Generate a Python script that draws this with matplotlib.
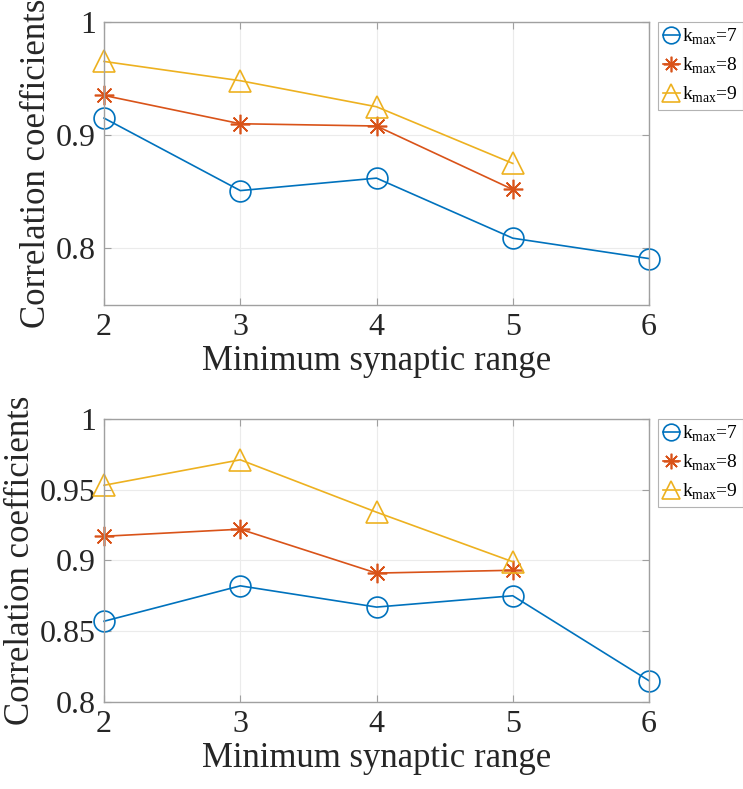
import matplotlib.pyplot as plt
import numpy as np

plt.rcParams['font.family'] = ['Liberation Serif', 'DejaVu Serif']
plt.rcParams['mathtext.fontset'] = 'custom'
plt.rcParams['mathtext.rm'] = 'Liberation Serif'

# data
x_vals = [2, 3, 4, 5, 6]
labels = ['k$_{\\mathrm{max}}$=7', 'k$_{\\mathrm{max}}$=8', 'k$_{\\mathrm{max}}$=9']

top_k7 = [0.915, 0.851, 0.862, 0.809, 0.791]
top_k8 = [0.935, 0.910, 0.908, 0.852]
top_k9 = [0.965, 0.948, 0.925, 0.875]

bot_k7 = [0.857, 0.882, 0.867, 0.875, 0.815]
bot_k8 = [0.917, 0.922, 0.891, 0.893]
bot_k9 = [0.953, 0.971, 0.934, 0.899]

colors = ['#0072BD', '#D95319', '#EDB120']
markers = ['o', (8, 2, 0), '^']
msizes = [15, 14, 16]

fig = plt.figure(figsize=(7.43, 7.89), dpi=100)
ax1 = fig.add_axes([0.140, 0.6134, 0.7335, 0.359])
ax2 = fig.add_axes([0.140, 0.1103, 0.7335, 0.359])

def draw(ax, series, ylim, yticks, yticklabels, leg_y):
    for i, s in enumerate(series):
        ax.plot(x_vals[:len(s)], s, color=colors[i], marker=markers[i],
                markersize=msizes[i], markerfacecolor='none',
                markeredgecolor=colors[i], markeredgewidth=1.2,
                linewidth=1.2, label=labels[i], clip_on=False)
    ax.set_xlim(2, 6)
    ax.set_ylim(*ylim)
    ax.set_xticks(x_vals)
    ax.set_yticks(yticks)
    ax.set_yticklabels(yticklabels)
    ax.grid(True, color='#ebebeb', linewidth=0.8)
    ax.set_axisbelow(True)
    for sp in ax.spines.values():
        sp.set_color('#a0a0a0')
        sp.set_linewidth(1.0)
    ax.tick_params(direction='in', length=5, color='#a0a0a0',
                   labelsize=23, labelcolor='#262626', top=True, right=True,
                   pad=6)
    ax.set_xlabel('Minimum synaptic range', fontsize=25, color='#262626', labelpad=2)
    ax.set_ylabel('Correlation coefficients', fontsize=25, color='#262626', labelpad=2)
    leg = ax.legend(loc='upper left', bbox_to_anchor=(1.016, leg_y), fontsize=14,
                    frameon=True, fancybox=False, edgecolor='#a0a0a0',
                    handlelength=0.9, handletextpad=0.1, borderpad=0.25,
                    borderaxespad=0, labelspacing=0.45, markerscale=0.8)
    leg.get_frame().set_linewidth(0.8)

draw(ax1, [top_k7, top_k8, top_k9], (0.75, 1.0), [0.8, 0.9, 1.0],
     ['0.8', '0.9', '1'], 1.0)
draw(ax2, [bot_k7, bot_k8, bot_k9], (0.8, 1.0), [0.8, 0.85, 0.9, 0.95, 1.0],
     ['0.8', '0.85', '0.9', '0.95', '1'], 1.0)

fig.savefig('out.png', dpi=100)
